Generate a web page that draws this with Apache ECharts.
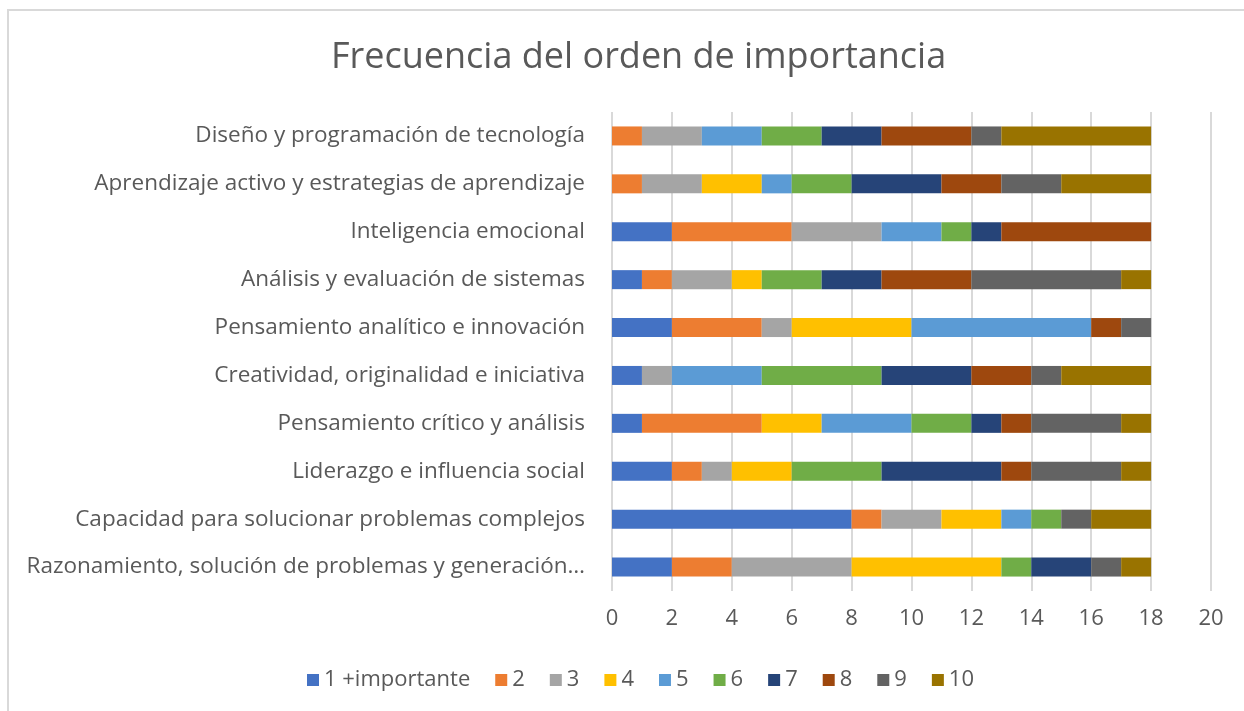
<!DOCTYPE html>
<html>
<head>
<meta charset="utf-8">
<script src="https://cdn.jsdelivr.net/npm/echarts@6/dist/echarts.min.js"></script>
<style>
html, body { margin: 0; padding: 0; background: #fff; }
#frame { position: absolute; left: 7px; top: 9px; width: 1237px; height: 702px;
  border-top: 2px solid #d9d9d9; border-left: 2px solid #d9d9d9; }
#chart { position: absolute; left: 0; top: 0; width: 1244px; height: 711px; }
</style>
</head>
<body>
<div id="frame"></div>
<div id="chart"></div>
<script>
// categorias de arriba hacia abajo
var categorias = [
    'Diseño y programación de tecnología',
    'Aprendizaje activo y estrategias de aprendizaje',
    'Inteligencia emocional',
    'Análisis y evaluación de sistemas',
    'Pensamiento analítico e innovación',
    'Creatividad, originalidad e iniciativa',
    'Pensamiento crítico y análisis',
    'Liderazgo e influencia social',
    'Capacidad para solucionar problemas complejos',
    'Razonamiento, solución de problemas y generación…'
];
var nombres = ['1 +importante', '2', '3', '4', '5', '6', '7', '8', '9', '10'];
var colores = ['#4472C4', '#ED7D31', '#A5A5A5', '#FFC000', '#5B9BD5',
               '#70AD47', '#264478', '#9E480E', '#636363', '#997300'];

var orden1  = [0, 0, 2, 1, 2, 1, 1, 2, 8, 2];
var orden2  = [1, 1, 4, 1, 3, 0, 4, 1, 1, 2];
var orden3  = [2, 2, 3, 2, 1, 1, 0, 1, 2, 4];
var orden4  = [0, 2, 0, 1, 4, 0, 2, 2, 2, 5];
var orden5  = [2, 1, 2, 0, 6, 3, 3, 0, 1, 0];
var orden6  = [2, 2, 1, 2, 0, 4, 2, 3, 1, 1];
var orden7  = [2, 3, 1, 2, 0, 3, 1, 4, 0, 2];
var orden8  = [3, 2, 5, 3, 1, 2, 1, 1, 0, 0];
var orden9  = [1, 2, 0, 5, 1, 1, 3, 3, 1, 1];
var orden10 = [5, 3, 0, 1, 0, 3, 1, 1, 2, 1];
var datos = [orden1, orden2, orden3, orden4, orden5, orden6, orden7, orden8, orden9, orden10];

var fuente = 'Open Sans';
var chart = echarts.init(document.getElementById('chart'));

var series = [];
for (var i = 0; i < nombres.length; i++) {
    series.push({
        name: nombres[i],
        type: 'bar',
        stack: 'total',
        barWidth: 19,
        itemStyle: { color: colores[i] },
        data: datos[i]
    });
}

var option = {
    backgroundColor: 'transparent',
    animation: false,
    color: colores,
    title: {
        text: 'Frecuencia del orden de importancia',
        left: 326,
        top: 35,
        textStyle: { fontFamily: fuente, fontSize: 36, fontWeight: 'normal', color: '#595959' }
    },
    legend: {
        data: nombres,
        left: 302,
        top: 664,
        itemWidth: 12,
        itemHeight: 12,
        itemGap: 25,
        icon: 'rect',
        textStyle: { fontFamily: fuente, fontSize: 22, color: '#595959' }
    },
    grid: {
        left: 612,
        right: 33,
        top: 112,
        bottom: 120
    },
    xAxis: {
        type: 'value',
        min: 0,
        max: 20,
        interval: 2,
        axisLine: { show: false },
        axisTick: { show: false },
        splitLine: { lineStyle: { color: '#d9d9d9', width: 2 } },
        axisLabel: { margin: 17, fontFamily: fuente, fontSize: 22, color: '#595959' }
    },
    yAxis: {
        type: 'category',
        inverse: true,
        data: categorias,
        axisLine: { show: false },
        axisTick: { show: false },
        axisLabel: { margin: 27, fontFamily: fuente, fontSize: 22.5, color: '#595959' }
    },
    series: series
};

chart.setOption(option);
</script>
</body>
</html>
